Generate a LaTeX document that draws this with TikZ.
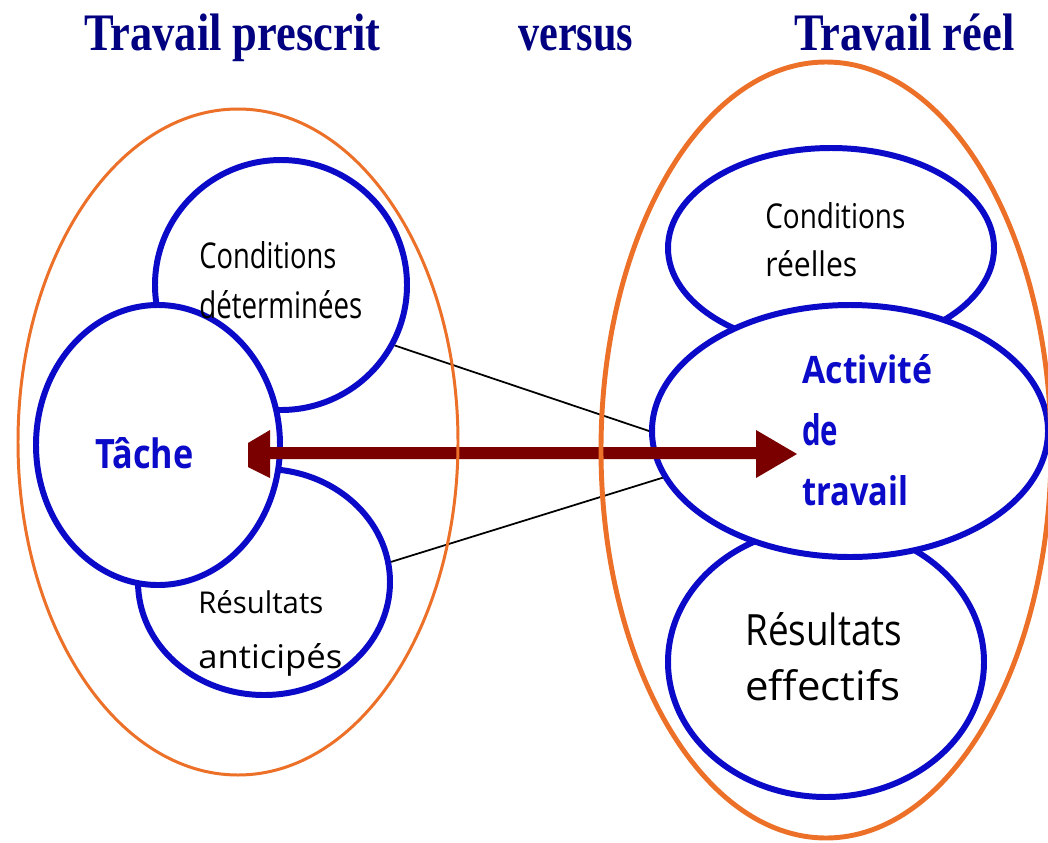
\documentclass[tikz,border=0pt]{standalone}
\usepackage{fontspec}
\setmainfont{Liberation Serif}
\newfontfamily\comicf{Open Sans}
\usetikzlibrary{shapes.geometric}
\newlength\pxu
\setlength\pxu{0.02cm}
\newcommand\fitwh[3]{\resizebox{#1\pxu}{#2\pxu}{#3}}
\newcommand\fitx[2]{\resizebox{#1\pxu}{\height}{#2}}
\definecolor{cblue}{RGB}{10,10,200}
\definecolor{corange}{RGB}{236,112,40}
\definecolor{cnavy}{RGB}{0,0,128}
\definecolor{cmaroon}{RGB}{122,0,0}
\begin{document}
\begin{tikzpicture}[x=0.02cm,y=-0.02cm,
  bluecirc/.style={ellipse,draw=cblue,line width=3.4pt,fill=white,inner sep=0pt},
  orangeell/.style={ellipse,draw=corange,inner sep=0pt},
  title/.style={anchor=base west,inner sep=0pt,text=cnavy,font=\fontsize{30}{32}\selectfont\bfseries},
  lbl/.style={anchor=base west,inner sep=0pt,text=black,font=\comicf},
  blbl/.style={anchor=base west,inner sep=0pt,text=cblue,font=\comicf\bfseries},
  thin/.style={draw=black,line width=1pt}]
\useasboundingbox (0,0) rectangle (1048,842);
\fill[white] (0,0) rectangle (1048,842);
% titles
\node[title] (t1) at (84,50) {\fitx{296}{Travail prescrit}};
\node[title] (t2) at (518,50) {\fitx{115}{versus}};
\node[title] (t3) at (794,50) {\fitx{220}{Travail réel}};
% left circles
\node[bluecirc,minimum width=252\pxu,minimum height=250\pxu] (cd) at (281,285) {};
\node[bluecirc,minimum width=252\pxu,minimum height=226\pxu] (ra) at (264,582) {};
\node[bluecirc,minimum width=244\pxu,minimum height=280\pxu] (tache) at (158,445) {};
% right circles
\node[bluecirc,minimum width=326\pxu,minimum height=200\pxu] (cr) at (831,248) {};
\node[bluecirc,minimum width=316\pxu,minimum height=270\pxu] (rf) at (826,662) {};
\node[bluecirc,minimum width=396\pxu,minimum height=252\pxu] (act) at (850,431) {};
% texts
\node[lbl] (cd1) at (199,268) {\fitwh{137}{27}{Conditions}};
\node[lbl] (cd2) at (199,318) {\fitwh{163}{28}{déterminées}};
\node[lbl] (ra1) at (198,613) {\fitwh{125}{23}{Résultats}};
\node[lbl] (ra2) at (198,668) {\fitwh{144}{25}{anticipés}};
\node[blbl] (ta) at (95,468) {\fitwh{98}{31}{Tâche}};
\node[lbl] (cr1) at (765,228) {\fitwh{140}{26}{Conditions}};
\node[lbl] (cr2) at (765,276) {\fitwh{92}{26}{réelles}};
\node[blbl] (ac1) at (802,383) {\fitwh{130}{29}{Activité}};
\node[blbl] (ac2) at (802,445) {\fitwh{36}{32}{de}};
\node[blbl] (ac3) at (802,505) {\fitwh{106}{30}{travail}};
\node[lbl] (rf1) at (745,645) {\fitwh{157}{33}{Résultats}};
\node[lbl] (rf2) at (745,700) {\fitwh{155}{31}{effectifs}};
% thin connectors
\draw[thin] (cd.-28) -- (act.180);
\draw[thin] (ra.9) -- (act.194);
% double arrow
\fill[cmaroon] (270,430) -- (248,443) -- (248,467) -- (270,478) -- (270,459)
  -- (756,459) -- (756,478) -- (797,454) -- (756,430) -- (756,447) -- (270,447) -- cycle;
% orange ellipses
\node[orangeell,line width=1.7pt,minimum width=440\pxu,minimum height=666\pxu] (le) at (238,442) {};
\node[orangeell,line width=2.8pt,minimum width=450\pxu,minimum height=776\pxu] (re) at (826,450) {};
\end{tikzpicture}
\end{document}
